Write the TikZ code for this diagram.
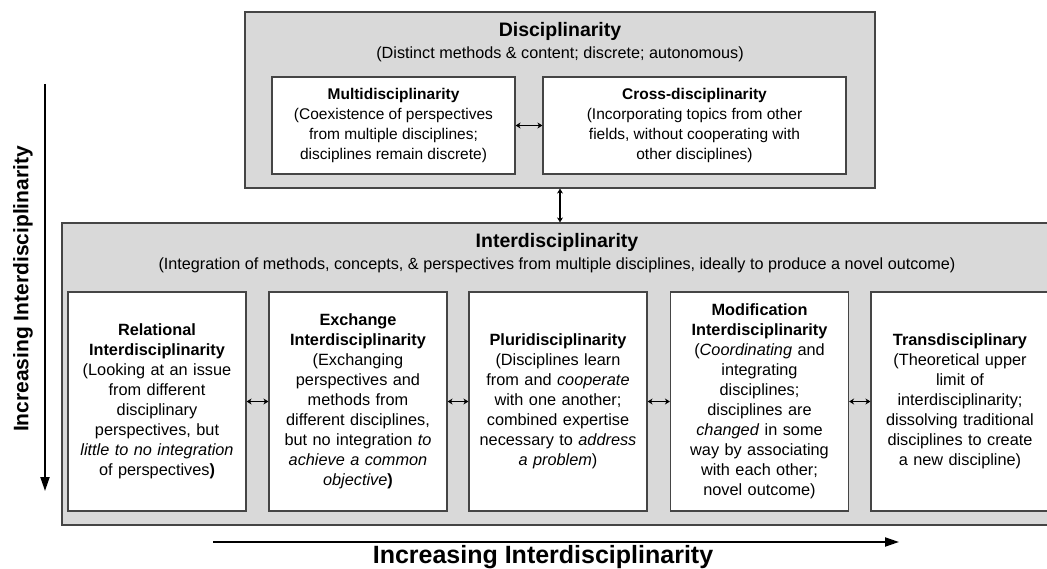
\documentclass[tikz,border=0pt]{standalone}
\usepackage{fontspec}
\setmainfont{Liberation Sans}
\usetikzlibrary{arrows.meta}
\definecolor{panelgray}{HTML}{D9D9D9}
\definecolor{edgegray}{HTML}{454545}
\begin{document}
\begin{tikzpicture}[x=1pt,y=-1pt,
    panel/.style={draw=edgegray,line width=1.2pt,fill=panelgray,inner sep=0pt},
    card/.style={draw=edgegray,line width=1.2pt,fill=white,align=center,inner sep=3pt,
                 font=\fontsize{15.5}{20}\selectfont},
    rowcard/.style={card,text width=172pt,minimum height=219pt,font=\fontsize{16.3}{20}\selectfont},
    heading/.style={anchor=base,font=\fontsize{19.5}{22}\selectfont\bfseries},
    subline/.style={anchor=base,font=\fontsize{16.2}{20}\selectfont},
    pair/.style={{Stealth[length=5pt,width=6pt]}-{Stealth[length=5pt,width=6pt]},line width=1.1pt},
    axis/.style={-{Triangle[length=14pt,width=9pt]},line width=2pt},
    axislabel/.style={font=\fontsize{21}{24}\selectfont\bfseries}]
                \useasboundingbox (0,0) rectangle (1047,569);
                % disciplinarity
                \node[panel,minimum width=630pt,minimum height=176pt] (disc) at (560,100) {};
                \node[heading]  (disctitle) at (560,37) {Disciplinarity};
                \node[subline]  (discsub)   at (560,59) {(Distinct methods \& content; discrete; autonomous)};
                \node[card,minimum width=243pt,minimum height=97pt] (multi) at (393.5,125.5)
                    {\textbf{Multidisciplinarity}\\(Coexistence of perspectives\\from multiple disciplines;\\disciplines remain discrete)};
                \node[card,minimum width=303pt,minimum height=97pt] (cross) at (694.5,125.5)
                    {\textbf{Cross-disciplinarity}\\(Incorporating topics from other\\fields, without cooperating with\\other disciplines)};
                \draw[pair] (multi) -- (cross);
                %
                % interdisciplinarity
                \node[panel,minimum width=990pt,minimum height=302pt] (inter) at (557,374) {};
                \node[heading]  (intertitle) at (557,248) {Interdisciplinarity};
                \node[subline]  (intersub)   at (557,270) {(Integration of methods, concepts, \& perspectives from multiple disciplines, ideally to produce a novel outcome)};
                \draw[pair] (disc.south) -- (disc.south |- inter.north);
                %
                \node[rowcard] (rel)  at (157,401.5)
                    {\textbf{Relational}\\\textbf{Interdisciplinarity}\\(Looking at an issue\\from different\\disciplinary\\perspectives, but\\\textit{little to no integration}\\of perspectives\textbf{)}};
                \node[rowcard] (exch) at (358,401.5)
                    {\textbf{Exchange}\\\textbf{Interdisciplinarity}\\(Exchanging\\perspectives and\\methods from\\different disciplines,\\but no integration \textit{to}\\\textit{achieve a common}\\\textit{objective}\textbf{)}};
                \node[rowcard] (pluri) at (558,401.5)
                    {\textbf{Pluridisciplinarity}\\(Disciplines learn\\from and \textit{cooperate}\\with one another;\\combined expertise\\necessary to \textit{address}\\\textit{a problem})};
                \node[rowcard] (modif) at (759.5,401.5)
                    {\textbf{Modification}\\\textbf{Interdisciplinarity}\\(\textit{Coordinating} and\\integrating\\disciplines;\\disciplines are\\\textit{changed} in some\\way by associating\\with each other;\\novel outcome)};
                \node[rowcard] (trans) at (960,401.5)
                    {\textbf{Transdisciplinary}\\(Theoretical upper\\limit of\\interdisciplinarity;\\dissolving traditional\\disciplines to create\\a new discipline)};
                \draw[pair] (rel) -- (exch);
                \draw[pair] (exch) -- (pluri);
                \draw[pair] (pluri) -- (modif);
                \draw[pair] (modif) -- (trans);
                %
                % axes
                \coordinate (vstart) at (45,84);
                \coordinate (vend)   at (45,491);
                \coordinate (hstart) at (213,542);
                \coordinate (hend)   at (899,542);
                \draw[axis] (vstart) -- (vend);
                \draw[axis] (hstart) -- (hend);
                \node[axislabel,rotate=90] (vlabel) at (23,289) {Increasing Interdisciplinarity};
                \node[axislabel,anchor=base,font=\fontsize{25}{27}\selectfont\bfseries] (hlabel) at (543,563) {Increasing Interdisciplinarity};
              \end{tikzpicture}
\end{document}
